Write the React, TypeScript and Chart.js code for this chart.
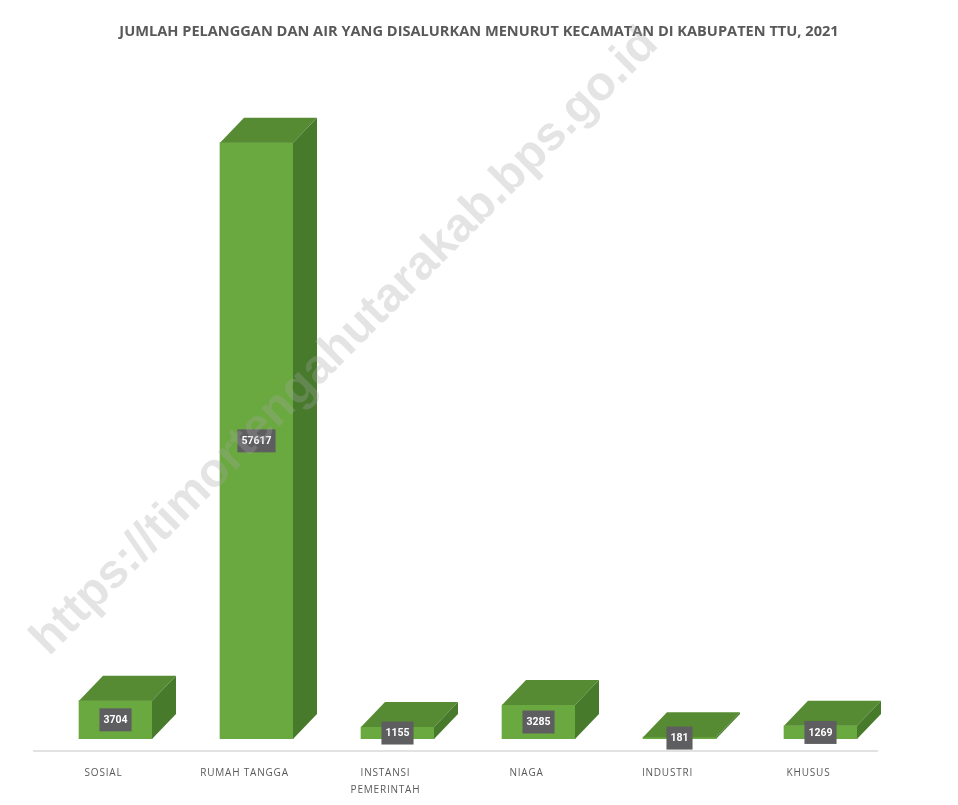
import React, { useEffect, useRef } from 'react';
import { Chart, registerables } from 'chart.js';

Chart.register(...registerables);

const categories: (string | string[])[] = ['SOSIAL', 'RUMAH TANGGA', ['INSTANSI', 'PEMERINTAH'], 'NIAGA', 'INDUSTRI', 'KHUSUS'];
const values: number[] = [3704, 57617, 1155, 3285, 181, 1269];
const titleText = 'JUMLAH PELANGGAN DAN AIR YANG DISALURKAN MENURUT KECAMATAN DI KABUPATEN TTU, 2021';
const watermarkText = 'https://timortengahutarakab.bps.go.id';
const yMin = 0;
const yMax = 60000;

const FRONT = '#6aa93f';
const TOP = '#568b33';
const SIDE = '#477a2b';
const DX = 24;
const DY = 25;

const bar3d = {
  id: 'bar3d',
  beforeDraw(chart: any) {
    chart.ctx.letterSpacing = '0px';
  },
  afterDatasetsDraw(chart: any) {
    const ctx = chart.ctx as CanvasRenderingContext2D;
    const meta = chart.getDatasetMeta(0);
    ctx.save();
    meta.data.forEach((bar: any) => {
      const { x, y, base, width } = bar.getProps(['x', 'y', 'base', 'width'], true);
      const l = x - width / 2;
      const r = x + width / 2;
      ctx.fillStyle = TOP;
      ctx.beginPath();
      ctx.moveTo(l, y);
      ctx.lineTo(l + DX, y - DY);
      ctx.lineTo(r + DX, y - DY);
      ctx.lineTo(r, y);
      ctx.closePath();
      ctx.fill();
      ctx.fillStyle = SIDE;
      ctx.beginPath();
      ctx.moveTo(r, y);
      ctx.lineTo(r + DX, y - DY);
      ctx.lineTo(r + DX, base - DY);
      ctx.lineTo(r, base);
      ctx.closePath();
      ctx.fill();
    });
    // data labels
    ctx.font = 'bold 10.5px Roboto';
    ctx.textAlign = 'center';
    ctx.textBaseline = 'middle';
    meta.data.forEach((bar: any, i: number) => {
      const { x, y, base } = bar.getProps(['x', 'y', 'base'], true);
      const cy = (y + base) / 2;
      const txt = String(values[i]);
      const w = ctx.measureText(txt).width + 8;
      const h = 23;
      ctx.fillStyle = '#5e5e60';
      ctx.fillRect(x - w / 2, cy - h / 2, w, h);
      ctx.fillStyle = '#ffffff';
      ctx.fillText(txt, x, cy + 0.5);
    });
    // floor line
    const area = chart.chartArea;
    ctx.strokeStyle = '#d9d9d9';
    ctx.lineWidth = 1.5;
    ctx.beginPath();
    ctx.moveTo(area.left - 12, area.bottom + 12);
    ctx.lineTo(area.right - 13, area.bottom + 12);
    ctx.stroke();
    ctx.restore();
    ctx.letterSpacing = '0.8px';
  },
  afterDraw(chart: any) {
    const ctx = chart.ctx as CanvasRenderingContext2D;
    ctx.letterSpacing = '0px';
    ctx.save();
    ctx.translate(345, 342);
    ctx.rotate(-Math.PI / 4);
    ctx.font = 'bold 48px "Liberation Sans"';
    ctx.textAlign = 'center';
    ctx.textBaseline = 'middle';
    ctx.fillStyle = 'rgba(165,165,165,0.3)';
    ctx.fillText(watermarkText, 0, 0);
    ctx.restore();
  },
};

export default function App() {
  const ref = useRef<HTMLCanvasElement | null>(null);
  useEffect(() => {
    if (!ref.current) return;
    const chart = new Chart(ref.current, {
      type: 'bar',
      data: {
        labels: categories as any,
        datasets: [
          {
            data: values,
            backgroundColor: FRONT,
            barThickness: 73,
          },
        ],
      },
      options: {
        animation: false,
        responsive: false,
        maintainAspectRatio: false,
        layout: { padding: { left: 45, right: 45, top: 0, bottom: 0 } },
        plugins: {
          legend: { display: false },
          tooltip: { enabled: false },
          title: {
            display: true,
            text: titleText,
            color: '#595959',
            font: { family: '"Open Sans"', size: 14.6, weight: 'bold', lineHeight: 1.2 },
            padding: { top: 23, bottom: 77.5 },
          },
        },
        scales: {
          x: {
            position: 'bottom',
            z: 1,
            grid: { display: false, drawTicks: false },
            border: { display: false },
            ticks: {
              z: 1,
              color: '#595959',
              font: { family: '"Open Sans"', size: 10, lineHeight: 1.75 },
              padding: 25,
              labelOffset: -12,
              maxRotation: 0,
              autoSkip: false,
            },
            afterFit: (s: any) => {
              s.height = 66;
            },
          },
          y: {
            position: 'right',
            min: yMin,
            max: yMax,
            grid: { display: false, drawTicks: false },
            border: { display: false },
            ticks: { display: false },
            afterFit: (s: any) => {
              s.width = 22;
            },
          },
        },
      },
      plugins: [bar3d],
    });
    return () => chart.destroy();
  }, []);
  return (
    <div style={{ position: 'fixed', left: 0, top: 0, width: 958, height: 805, background: '#fff' }}>
      <canvas ref={ref} width={958} height={805} style={{ display: 'block' }} />
    </div>
  );
}
